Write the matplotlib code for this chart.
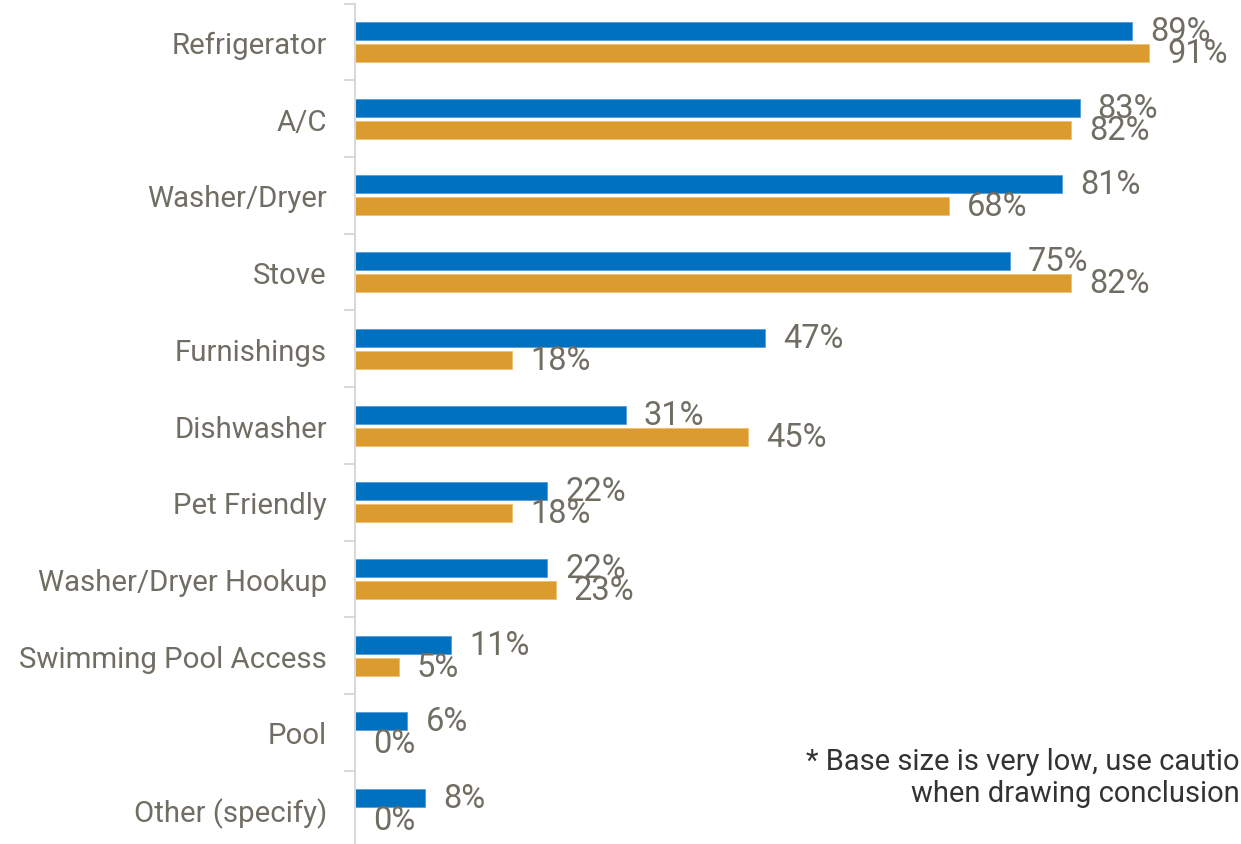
import matplotlib
matplotlib.use("Agg")
import matplotlib.pyplot as plt
import numpy as np

plt.rcParams['font.family'] = ['Roboto', 'DejaVu Sans']

categories = ["Refrigerator", "A/C", "Washer/Dryer", "Stove", "Furnishings",
              "Dishwasher", "Pet Friendly", "Washer/Dryer Hookup",
              "Swimming Pool Access", "Pool", "Other (specify)"]
series_a = [89, 83, 81, 75, 47, 31, 22, 22, 11, 6, 8]
series_b = [91, 82, 68, 82, 18, 45, 18, 23, 5, 0, 0]
note_lines = ["* Base size is very low, use cautio", "when drawing conclusion"]

BLUE = "#0070C0"
GOLD = "#DB9B2E"
LABEL_GRAY = "#706D63"
AXIS_GRAY = "#D9D9D9"

fig = plt.figure(figsize=(12.41, 8.45), dpi=100)
ax = fig.add_axes([355 / 1241, 1 - 848.4 / 845, 873 / 1241, 843.7 / 845])

n = len(categories)
y = np.arange(n)
h = 0.235
off = 0.1435

bars_a = ax.barh(y - off, series_a, height=h, color=BLUE, edgecolor="#5B9BD5", linewidth=0.6)
bars_b = ax.barh(y + off, series_b, height=h, color=GOLD, edgecolor="#F0C070", linewidth=0.6)

for bars, vals in ((bars_a, series_a), (bars_b, series_b)):
    for b, v in zip(bars, vals):
        ax.annotate(f"{v}%", xy=(v, b.get_y() + b.get_height() / 2),
                    xytext=(18, 0), textcoords="offset pixels",
                    ha="left", va="center", fontsize=23.5, color=LABEL_GRAY)

ax.set_xlim(0, 100)
ax.set_ylim(n - 0.5, -0.5)

# tick marks between groups, labels at group centres
ax.set_yticks(np.arange(n + 1) - 0.5)
ax.set_yticklabels([])
ax.set_yticks(y, minor=True)
ax.set_yticklabels(categories, minor=True, fontsize=21.2, color=LABEL_GRAY)
ax.tick_params(axis="y", which="major", length=8, width=1.5, color=AXIS_GRAY, direction="out")
ax.tick_params(axis="y", which="minor", length=0, pad=28 * 0.72)
ax.set_xticks([])

for s in ("top", "right", "bottom"):
    ax.spines[s].set_visible(False)
ax.spines["left"].set_color(AXIS_GRAY)
ax.spines["left"].set_linewidth(1.5)

fig.text(1240 / 1241, 1 - 802 / 845, "\n".join(note_lines), ha="right", va="baseline",
         multialignment="right", fontsize=21, color="#333333", linespacing=1.2)

fig.savefig("out.png", dpi=100)
